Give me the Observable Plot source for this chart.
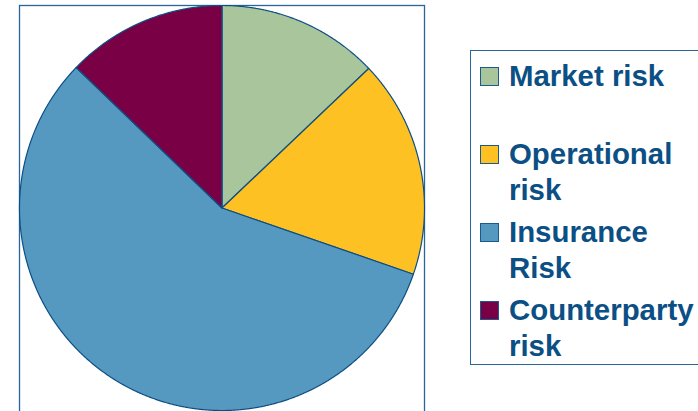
<!DOCTYPE html>
<html>
<head>
<meta charset="utf-8">
<script src="https://cdn.jsdelivr.net/npm/d3@7"></script>
<script src="https://cdn.jsdelivr.net/npm/@observablehq/plot@0.6"></script>
<style>
  html, body { margin: 0; padding: 0; background: #ffffff; overflow: hidden; }
  #wrap { position: relative; width: 698px; height: 411px; overflow: hidden; }
  #chart svg { display: block; background: #ffffff; }
  #legend {
    position: absolute; left: 470px; top: 50px; width: 260px; height: 315px;
    border: 1.5px solid #2a6598; box-sizing: border-box; padding-top: 7px;
    font-family: "Liberation Sans", Arial, sans-serif; font-weight: bold;
    font-size: 29.4px; line-height: 36px; color: #0b4f85;
  }
  .entry { position: relative; padding-left: 38px; width: 195px; margin-bottom: 6px; }
  .entry.single { min-height: 72px; }
  .sw { position: absolute; left: 9px; top: 9px; width: 17px; height: 17px; border: 1.2px solid #1a5a8e; }
</style>
</head>
<body>
<div id="wrap">
  <div id="chart"></div>
  <div id="legend"></div>
</div>
<script>
// Data
const categories = ["Market risk", "Operational risk", "Insurance Risk", "Counterparty risk"];
const values = [12.9, 17.4, 56.9, 12.8];
const colors = ["#a9c59b", "#fec123", "#5699c0", "#7a0046"];

// Layout
const W = 698, H = 415, mL = 19, mT = 5, mR = 274, mB = 0;
const innerW = W - mL - mR, innerH = H - mT - mB;
const r = innerW / 2;

// Slice polygons derived from d3.pie angles (clockwise from 12 o'clock)
const arcs = d3.pie().sort(null).value(d => d)(values);
const pts = arcs.flatMap((a, i) => {
  const c = categories[i];
  const n = Math.max(2, Math.ceil((a.endAngle - a.startAngle) / 0.004));
  const out = [{c, x: 0, y: 0}];
  for (let k = 0; k <= n; k++) {
    const t = a.startAngle + (a.endAngle - a.startAngle) * k / n;
    out.push({c, x: Math.sin(t), y: Math.cos(t)});
  }
  out.push({c, x: 0, y: 0});
  return out;
});

const chart = Plot.plot({
  width: W, height: H,
  marginLeft: mL, marginTop: mT, marginRight: mR, marginBottom: mB,
  x: {domain: [-1, 1], axis: null},
  y: {domain: [1 - innerH / r, 1], axis: null},
  color: {domain: categories, range: colors},
  marks: [
    Plot.frame({stroke: "#2a6598", strokeWidth: 1.3}),
    Plot.line(pts, {x: "x", y: "y", z: "c", fill: "c", stroke: "#0d4f85", strokeWidth: 1.2, strokeLinejoin: "round", curve: "linear"})
  ]
});
document.getElementById("chart").appendChild(chart);

// Legend
const leg = document.getElementById("legend");
categories.forEach((c, i) => {
  const e = document.createElement("div");
  e.className = "entry" + (i === 0 ? " single" : "");
  const s = document.createElement("span");
  s.className = "sw";
  s.style.background = colors[i];
  e.appendChild(s);
  e.appendChild(document.createTextNode(c));
  leg.appendChild(e);
});
</script>
</body>
</html>
